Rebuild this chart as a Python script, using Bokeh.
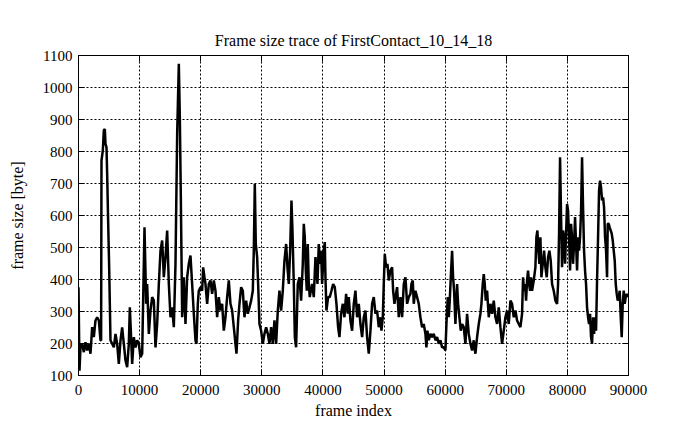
from bokeh.plotting import figure
from bokeh.models import FixedTicker, LinearAxis, Range1d
from bokeh.embed import file_html
from bokeh.resources import INLINE

frames = [0,164,327,600,872,1145,1418,1690,1963,2236,2509,2781,3054,3327,3600,3700,3763,3981,4145,4309,4418,4581,4690,4800,5018,5127,5236,5509,5781,6054,6327,6600,6872,7145,7418,7690,7963,8236,8400,8563,8781,9054,9327,9600,9872,10145,10418,10800,11072,11236,11509,11781,12054,12327,12600,12872,13145,13418,13690,13963,14236,14508,14781,15054,15327,15599,15872,16145,16417,16581,16745,16854,16963,17236,17508,
17778,18051,18323,18596,18869,19141,19305,19523,19687,19960,20232,20396,20614,20778,21050,21323,21596,21868,22141,22414,22687,22959,23232,23505,23777,24050,24323,24595,24868,25141,25414,25686,25850,26123,26341,26614,26886,27159,27432,27704,27977,28250,28522,28686,28850,29013,29231,29395,29613,29886,30159,30431,30704,30977,31249,31522,31795,32067,32340,32613,32885,33158,33431,33703,33976,34194,34413,34631,34849,35013,35231,35400,35610,
35883,36156,36428,36701,36864,37028,37192,37355,37519,37683,37846,38010,38228,38501,38774,38937,39101,39319,39537,39701,39864,40137,40301,40410,40573,40846,41119,41391,41664,41937,42210,42482,42700,42973,43246,43518,43791,44064,44227,44500,44773,45045,45318,45591,45864,46136,46409,46682,46954,47227,47500,47773,48045,48318,48591,48863,49136,49409,49573,49791,49955,50118,50336,50554,50773,51045,51318,51482,51700,51864,52136,52409,52682,52954,53227,53500,53772,54045,54318,
54479,54697,54861,55133,55406,55679,55952,56224,56497,56770,56933,57097,57315,57588,57861,58133,58406,58679,58952,59224,59497,59770,60042,60206,60424,60588,60751,60969,61133,61297,61460,61679,61951,62115,62333,62551,62769,63042,63315,63588,63860,64133,64406,64678,64951,65224,65496,65769,65933,66151,66314,66478,66642,66860,67133,67405,67678,67951,68223,68496,68769,69042,69314,69587,69860,70132,70405,70678,70950,71223,71496,
71766,72039,72311,72584,72748,72911,73075,73238,73402,73566,73729,73893,74057,74220,74493,74766,74929,75093,75256,75420,75584,75747,75965,76184,76402,76620,76838,77056,77274,77492,77765,78038,78310,78474,78638,78801,78965,79128,79292,79456,79619,79783,79947,80110,80274,80437,80601,80765,80928,81092,81255,81419,81583,81746,81910,82074,82237,82401,82564,82728,82892,83055,83219,83383,83546,83710,83873,84037,84201,84364,84528,84692,84855,85019,85182,85346,85510,85673,85837,86000,86164,86328,86491,86600,86764,86928,87091,87255,87419,87582,87746,87910,88073,88237,88400,88564,88728,88891,89055,89219,89382,89546,89710,89928]

sizes = [376,115,190,200,173,204,178,200,168,251,220,272,282,272,210,210,772,803,866,870,824,813,730,626,438,324,210,199,188,230,199,136,210,250,199,147,126,199,313,240,136,220,188,210,200,157,168,563,324,386,230,303,345,334,188,261,386,490,522,407,470,553,386,282,313,251,449,855,1074,907,657,470,282,407,261,
407,449,475,386,293,210,199,324,365,376,365,438,407,386,324,386,397,355,397,365,282,345,303,324,240,282,345,397,324,303,251,199,168,272,324,376,365,282,334,293,313,334,365,490,699,511,470,386,261,240,199,230,251,230,199,251,199,272,199,303,365,303,365,459,511,438,386,490,647,553,386,220,188,
386,407,334,449,574,532,428,365,511,386,345,365,386,345,470,438,386,511,449,490,386,490,517,407,303,345,345,365,386,376,324,251,220,293,324,282,355,293,345,272,240,324,365,282,324,261,220,282,303,220,168,240,324,345,293,303,251,282,240,282,386,480,438,449,397,428,438,365,324,345,376,282,345,282,386,407,324,345,355,
386,397,324,365,345,324,282,251,261,230,188,240,210,230,220,230,210,220,199,210,188,188,178,261,345,282,334,428,490,407,365,261,386,324,282,240,261,251,199,293,230,199,178,210,168,220,261,293,324,386,417,386,334,365,282,324,293,334,282,261,313,251,199,240,282,303,261,334,324,282,303,
272,261,251,293,407,365,386,334,397,428,386,365,407,365,397,438,532,553,490,449,532,407,449,490,438,407,470,490,459,386,365,334,324,386,543,782,595,438,553,532,449,543,636,615,532,428,574,532,449,511,595,511,428,532,490,532,615,782,626,490,428,386,313,282,261,293,220,199,282,230,282,240,397,532,678,709,688,647,657,626,532,490,407,574,574,563,553,543,522,490,459,386,355,334,345,365,282,220,324,365,324,345,355,345]

x_ticks = [0, 10000, 20000, 30000, 40000, 50000, 60000, 70000, 80000, 90000]
y_ticks = [100, 200, 300, 400, 500, 600, 700, 800, 900, 1000, 1100]

FONT = "Liberation Serif"

p = figure(frame_width=550, frame_height=320, output_backend="svg", toolbar_location=None,
           x_range=Range1d(0, 90000), y_range=Range1d(100, 1100),
           min_border_left=78, min_border_right=59, min_border_top=55, min_border_bottom=46,
           title="Frame size trace of FirstContact_10_14_18")
p.title.align = "center"
p.title.text_font = FONT
p.title.text_font_style = "normal"
p.title.text_font_size = "16px"
p.title.text_color = "black"
p.title.standoff = 13

p.line(frames, sizes, line_color="black", line_width=2.5)

p.outline_line_color = "black"
p.outline_line_width = 1

for ax in (p.xaxis[0], p.yaxis[0]):
    ax.major_label_text_font = FONT
    ax.major_label_text_font_size = "15px"
    ax.major_label_text_color = "black"
    ax.axis_label_text_font = FONT
    ax.axis_label_text_font_size = "16px"
    ax.axis_label_text_font_style = "normal"
    ax.axis_label_text_color = "black"
    ax.major_tick_in = 6
    ax.major_tick_out = 0
    ax.minor_tick_line_color = None
    ax.axis_line_color = "black"
    ax.major_tick_line_color = "black"

p.xaxis.ticker = FixedTicker(ticks=x_ticks)
p.yaxis.ticker = FixedTicker(ticks=y_ticks)
p.xaxis.axis_label = "frame index"
p.yaxis.axis_label = "frame size [byte]"
p.xaxis.major_label_standoff = 9
p.yaxis.major_label_standoff = 6
p.xaxis.axis_label_standoff = 4
p.yaxis.axis_label_standoff = 14

for loc, ticks in (("right", y_ticks), ("above", x_ticks)):
    ax = LinearAxis(ticker=FixedTicker(ticks=ticks))
    ax.major_label_overrides = {t: "" for t in ticks}
    ax.major_label_standoff = 0
    ax.major_tick_in = 6
    ax.major_tick_out = 0
    ax.minor_tick_line_color = None
    ax.axis_line_color = "black"
    ax.major_tick_line_color = "black"
    p.add_layout(ax, loc)

p.xgrid.ticker = FixedTicker(ticks=x_ticks)
p.ygrid.ticker = FixedTicker(ticks=y_ticks)
for g in (p.xgrid[0], p.ygrid[0]):
    g.grid_line_color = "black"
    g.grid_line_dash = "2 2"
    g.grid_line_width = 1
    g.grid_line_alpha = 1.0

p.background_fill_color = "white"
p.border_fill_color = "white"

open("out.html", "w").write(file_html(p, INLINE))
